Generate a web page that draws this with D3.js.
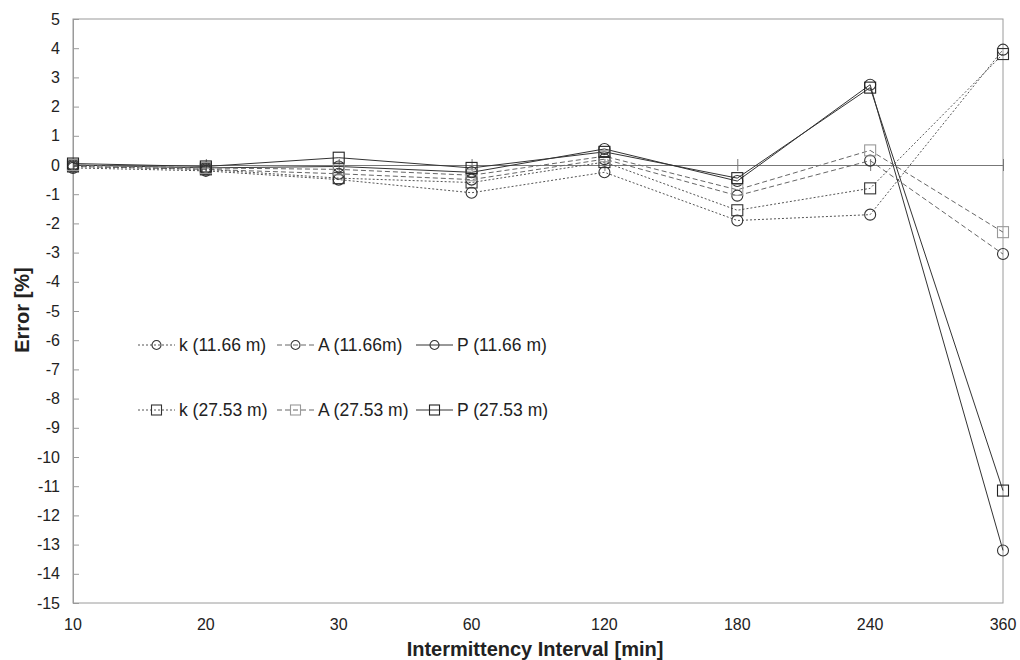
<!DOCTYPE html>
<html>
<head>
<meta charset="utf-8">
<script src="https://cdn.jsdelivr.net/npm/d3@7"></script>
<style>
  body { margin: 0; background: #fff; }
  svg text { font-family: "Liberation Sans", Arial, sans-serif; fill: #222; }
</style>
</head>
<body>
<svg id="chart" width="1020" height="660"></svg>
<script>
// categories on the x axis (equally spaced)
const intervals = ["10", "20", "30", "60", "120", "180", "240", "360"];
const yTicks = d3.range(-15, 6);

// error values [%]
const k11 = [-0.1, -0.2, -0.5, -0.95, -0.25, -1.9, -1.7, 3.95];
const a11 = [-0.05, -0.15, -0.3, -0.5, 0.2, -1.05, 0.15, -3.05];
const p11 = [0.0, -0.1, -0.05, -0.25, 0.55, -0.55, 2.75, -13.2];
const k27 = [-0.05, -0.15, -0.45, -0.6, 0.1, -1.55, -0.8, 3.8];
const a27 = [0.0, -0.1, -0.15, -0.35, 0.3, -0.85, 0.5, -2.3];
const p27 = [0.05, -0.05, 0.25, -0.1, 0.45, -0.45, 2.65, -11.15];

const seriesNames = ["k (11.66 m)", "A (11.66m)", "P (11.66 m)", "k (27.53 m)", "A (27.53 m)", "P (27.53 m)"];
const seriesValues = [k11, a11, p11, k27, a27, p27];

// style per series
const styles = [
  {dash: "2,2", line: "#555", marker: "circle", mstroke: "#333"},
  {dash: "5,3", line: "#666", marker: "circle", mstroke: "#333"},
  {dash: null, line: "#333", marker: "circle", mstroke: "#333"},
  {dash: "2,2", line: "#555", marker: "square", mstroke: "#333"},
  {dash: "5,3", line: "#666", marker: "square", mstroke: "#999"},
  {dash: null, line: "#333", marker: "square", mstroke: "#222"}
];

const svg = d3.select('svg#chart');
const size = {width: +svg.attr('width'), height: +svg.attr('height')};
const pad = {top: 19, right: 17, bottom: 57, left: 73};
const width = size.width - pad.left - pad.right;
const height = size.height - pad.top - pad.bottom;

const plot = svg.append('g').attr('transform', `translate(${pad.left}, ${pad.top})`);

const x = d3.scalePoint().domain(intervals).range([0, width]).padding(0);
const y = d3.scaleLinear().domain([-15, 5]).range([height, 0]);

// plot area border
plot.append('rect')
  .attr('x', 0).attr('y', 0)
  .attr('width', width).attr('height', height)
  .attr('fill', 'none')
  .attr('stroke', '#9a9a9a')
  .attr('stroke-width', 1);

// y axis with inside ticks
const yAxis = plot.append('g')
  .call(d3.axisRight(y).tickValues(yTicks).tickSize(6).tickFormat(''));
yAxis.select('.domain').attr('stroke', '#9a9a9a');
yAxis.selectAll('.tick line').attr('stroke', '#9a9a9a');

plot.append('g').selectAll('text')
  .data(yTicks)
  .enter().append('text')
    .attr('x', -13)
    .attr('y', d => y(d))
    .attr('dy', '0.35em')
    .attr('text-anchor', 'end')
    .style('font-size', '16px')
    .text(d => d);

// horizontal axis crossing at zero, with cross ticks
const xAxis = plot.append('g')
  .attr('transform', `translate(0, ${y(0)})`)
  .call(d3.axisBottom(x).tickSize(6).tickSizeOuter(0).tickFormat(''));
xAxis.select('.domain').attr('stroke', '#777');
xAxis.selectAll('.tick line').attr('y1', -6).attr('stroke', '#777');

// category labels below the plot
plot.append('g').selectAll('text')
  .data(intervals)
  .enter().append('text')
    .attr('x', d => x(d))
    .attr('y', height + 27)
    .attr('text-anchor', 'middle')
    .style('font-size', '16px')
    .text(d => d);

// axis titles
svg.append('text')
  .attr('x', 535)
  .attr('y', 656)
  .attr('text-anchor', 'middle')
  .style('font-size', '20px')
  .style('font-weight', 'bold')
  .text('Intermittency Interval [min]');

svg.append('text')
  .attr('transform', 'translate(29, 310) rotate(-90)')
  .attr('text-anchor', 'middle')
  .style('font-size', '20px')
  .style('font-weight', 'bold')
  .text('Error [%]');

// marker drawing helper
function drawMarker(sel, st, r) {
  if (st.marker === 'circle') {
    sel.append('circle')
      .attr('r', r)
      .attr('fill', 'none')
      .attr('stroke', st.mstroke)
      .attr('stroke-width', 1.1);
  } else {
    sel.append('rect')
      .attr('x', -r).attr('y', -r)
      .attr('width', 2 * r).attr('height', 2 * r)
      .attr('fill', 'none')
      .attr('stroke', st.mstroke)
      .attr('stroke-width', 1.1);
  }
}

const line = d3.line()
  .x((d, i) => x(intervals[i]))
  .y(d => y(d));

// lines
seriesValues.forEach((vals, s) => {
  const st = styles[s];
  plot.append('path')
    .datum(vals)
    .attr('d', line)
    .attr('fill', 'none')
    .attr('stroke', st.line)
    .attr('stroke-width', 1)
    .attr('stroke-dasharray', st.dash);
});

// markers
seriesValues.forEach((vals, s) => {
  const st = styles[s];
  plot.append('g').selectAll('g')
    .data(vals)
    .enter().append('g')
      .attr('transform', (d, i) => `translate(${x(intervals[i])}, ${y(d)})`)
      .each(function() { drawMarker(d3.select(this), st, 5.5); });
});

// legend
const lConfig = {
  cols: [138, 277, 416],
  rows: [345, 410],
  lineLen: 37,
  textGap: 4
};

seriesNames.forEach((name, s) => {
  const st = styles[s];
  const lx = lConfig.cols[s % 3];
  const ly = lConfig.rows[Math.floor(s / 3)];
  const g = svg.append('g').attr('class', 'legend');
  g.append('line')
    .attr('x1', lx).attr('x2', lx + lConfig.lineLen)
    .attr('y1', ly).attr('y2', ly)
    .attr('stroke', st.line)
    .attr('stroke-width', 1)
    .attr('stroke-dasharray', st.dash);
  const m = g.append('g').attr('transform', `translate(${lx + lConfig.lineLen / 2}, ${ly})`);
  drawMarker(m, st, st.marker === 'circle' ? 4.5 : 5);
  g.append('text')
    .attr('x', lx + lConfig.lineLen + lConfig.textGap)
    .attr('y', ly)
    .attr('dy', '0.35em')
    .style('font-size', '17.5px')
    .text(name);
});
</script>
</body>
</html>
